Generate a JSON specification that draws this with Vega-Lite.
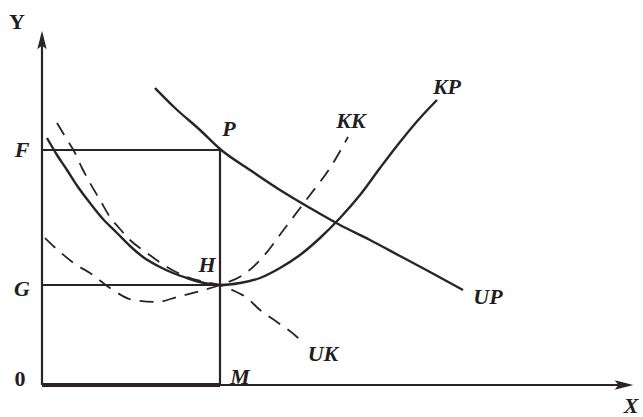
{
  "$schema": "https://vega.github.io/schema/vega-lite/v6.json",
  "width": 643,
  "height": 417,
  "autosize": "none",
  "padding": 0,
  "background": "white",
  "config": {"view": {"stroke": null}},
  "datasets": {
    "curves": [
      {"s": "KP", "o": 1, "x": 5, "y": 247}, {"s": "KP", "o": 2, "x": 15, "y": 230}, {"s": "KP", "o": 3, "x": 25, "y": 215}, {"s": "KP", "o": 4, "x": 36, "y": 198}, {"s": "KP", "o": 5, "x": 48, "y": 182}, {"s": "KP", "o": 6, "x": 61, "y": 166}, {"s": "KP", "o": 7, "x": 75, "y": 152}, {"s": "KP", "o": 8, "x": 88, "y": 139}, {"s": "KP", "o": 9, "x": 101, "y": 128}, {"s": "KP", "o": 10, "x": 116, "y": 119}, {"s": "KP", "o": 11, "x": 131, "y": 112}, {"s": "KP", "o": 12, "x": 145, "y": 107}, {"s": "KP", "o": 13, "x": 158, "y": 103}, {"s": "KP", "o": 14, "x": 168, "y": 101}, {"s": "KP", "o": 15, "x": 178, "y": 100}, {"s": "KP", "o": 16, "x": 198, "y": 102}, {"s": "KP", "o": 17, "x": 218, "y": 107}, {"s": "KP", "o": 18, "x": 238, "y": 117}, {"s": "KP", "o": 19, "x": 258, "y": 130}, {"s": "KP", "o": 20, "x": 278, "y": 147}, {"s": "KP", "o": 21, "x": 298, "y": 167}, {"s": "KP", "o": 22, "x": 318, "y": 190}, {"s": "KP", "o": 23, "x": 338, "y": 217}, {"s": "KP", "o": 24, "x": 358, "y": 243}, {"s": "KP", "o": 25, "x": 378, "y": 267}, {"s": "KP", "o": 26, "x": 395, "y": 285},
      {"s": "UP", "o": 1, "x": 113, "y": 297}, {"s": "UP", "o": 2, "x": 133, "y": 277}, {"s": "UP", "o": 3, "x": 158, "y": 255}, {"s": "UP", "o": 4, "x": 178, "y": 236}, {"s": "UP", "o": 5, "x": 208, "y": 215}, {"s": "UP", "o": 6, "x": 238, "y": 195}, {"s": "UP", "o": 7, "x": 268, "y": 177}, {"s": "UP", "o": 8, "x": 298, "y": 160}, {"s": "UP", "o": 9, "x": 328, "y": 145}, {"s": "UP", "o": 10, "x": 358, "y": 129}, {"s": "UP", "o": 11, "x": 388, "y": 113}, {"s": "UP", "o": 12, "x": 421, "y": 95},
      {"s": "UK", "o": 1, "x": 15, "y": 262}, {"s": "UK", "o": 2, "x": 24, "y": 247}, {"s": "UK", "o": 3, "x": 33, "y": 232}, {"s": "UK", "o": 4, "x": 40, "y": 217}, {"s": "UK", "o": 5, "x": 48, "y": 202}, {"s": "UK", "o": 6, "x": 58, "y": 185}, {"s": "UK", "o": 7, "x": 68, "y": 168}, {"s": "UK", "o": 8, "x": 78, "y": 156}, {"s": "UK", "o": 9, "x": 88, "y": 145}, {"s": "UK", "o": 10, "x": 105, "y": 132}, {"s": "UK", "o": 11, "x": 125, "y": 118}, {"s": "UK", "o": 12, "x": 145, "y": 108}, {"s": "UK", "o": 13, "x": 163, "y": 103}, {"s": "UK", "o": 14, "x": 178, "y": 100}, {"s": "UK", "o": 15, "x": 188, "y": 96}, {"s": "UK", "o": 16, "x": 205, "y": 87}, {"s": "UK", "o": 17, "x": 218, "y": 75}, {"s": "UK", "o": 18, "x": 235, "y": 63}, {"s": "UK", "o": 19, "x": 255, "y": 48}, {"s": "UK", "o": 20, "x": 261, "y": 42},
      {"s": "KK", "o": 1, "x": 3, "y": 147}, {"s": "KK", "o": 2, "x": 18, "y": 133}, {"s": "KK", "o": 3, "x": 33, "y": 121}, {"s": "KK", "o": 4, "x": 48, "y": 112}, {"s": "KK", "o": 5, "x": 68, "y": 97}, {"s": "KK", "o": 6, "x": 91, "y": 85}, {"s": "KK", "o": 7, "x": 115, "y": 83}, {"s": "KK", "o": 8, "x": 135, "y": 88}, {"s": "KK", "o": 9, "x": 158, "y": 94}, {"s": "KK", "o": 10, "x": 178, "y": 100}, {"s": "KK", "o": 11, "x": 201, "y": 110}, {"s": "KK", "o": 12, "x": 220, "y": 127}, {"s": "KK", "o": 13, "x": 243, "y": 157}, {"s": "KK", "o": 14, "x": 268, "y": 190}, {"s": "KK", "o": 15, "x": 288, "y": 217}, {"s": "KK", "o": 16, "x": 306, "y": 248}
    ],
    "segs": [
      {"k": "thin", "x": 0, "y": 0, "x2": 584, "y2": 0},
      {"k": "thin", "x": 0, "y": 0, "x2": 0, "y2": 350},
      {"k": "thin", "x": 0, "y": 235, "x2": 178, "y2": 235},
      {"k": "thin", "x": 0, "y": 100, "x2": 178, "y2": 100},
      {"k": "thin", "x": 178, "y": 0, "x2": 178, "y2": 235},
      {"k": "thick", "x": 0, "y": 0, "x2": 178, "y2": 0}
    ],
    "arrows": [
      {"a": "up", "x": 0, "y": 345},
      {"a": "right", "x": 582, "y": 0}
    ],
    "labels": [
      {"t": "Y", "st": "normal", "x": -25, "y": 363},
      {"t": "0", "st": "normal", "x": -22, "y": 6},
      {"t": "F", "st": "italic", "x": -20, "y": 235},
      {"t": "G", "st": "italic", "x": -20, "y": 96},
      {"t": "M", "st": "italic", "x": 198, "y": 8},
      {"t": "P", "st": "italic", "x": 187, "y": 256},
      {"t": "H", "st": "italic", "x": 165, "y": 120},
      {"t": "KK", "st": "italic", "x": 309, "y": 264},
      {"t": "KP", "st": "italic", "x": 405, "y": 298},
      {"t": "UP", "st": "italic", "x": 446, "y": 88},
      {"t": "UK", "st": "italic", "x": 281, "y": 31},
      {"t": "X", "st": "italic", "x": 589, "y": -21}
    ]
  },
  "encoding": {
    "x": {"type": "quantitative", "scale": {"domain": [-42, 601], "nice": false, "zero": false}, "axis": null},
    "y": {"type": "quantitative", "scale": {"domain": [-32, 385], "nice": false, "zero": false}, "axis": null}
  },
  "layer": [
    {
      "data": {"name": "segs"},
      "transform": [{"filter": "datum.k === 'thin'"}],
      "mark": {"type": "rule", "color": "#2b2327", "strokeWidth": 2.2},
      "encoding": {"x": {"field": "x", "type": "quantitative"}, "y": {"field": "y", "type": "quantitative"}, "x2": {"field": "x2"}, "y2": {"field": "y2"}}
    },
    {
      "data": {"name": "segs"},
      "transform": [{"filter": "datum.k === 'thick'"}],
      "mark": {"type": "rule", "color": "#2b2327", "strokeWidth": 4},
      "encoding": {"x": {"field": "x", "type": "quantitative"}, "y": {"field": "y", "type": "quantitative"}, "x2": {"field": "x2"}, "y2": {"field": "y2"}}
    },
    {
      "data": {"name": "arrows"},
      "transform": [{"filter": "datum.a === 'up'"}],
      "mark": {"type": "point", "shape": "M-0.5,1 L0,-1 L0.5,1 L0,0.6 Z", "filled": true, "color": "#2b2327", "size": 350, "opacity": 1},
      "encoding": {"x": {"field": "x", "type": "quantitative"}, "y": {"field": "y", "type": "quantitative"}}
    },
    {
      "data": {"name": "arrows"},
      "transform": [{"filter": "datum.a === 'right'"}],
      "mark": {"type": "point", "shape": "M-1,-0.5 L1,0 L-1,0.5 L-0.6,0 Z", "filled": true, "color": "#2b2327", "size": 350, "opacity": 1},
      "encoding": {"x": {"field": "x", "type": "quantitative"}, "y": {"field": "y", "type": "quantitative"}}
    },
    {
      "data": {"name": "curves"},
      "transform": [{"filter": "datum.s === 'KP' || datum.s === 'UP'"}],
      "mark": {"type": "line", "color": "#2b2327", "strokeWidth": 2.4, "interpolate": "monotone"},
      "encoding": {"x": {"field": "x", "type": "quantitative"}, "y": {"field": "y", "type": "quantitative"}, "detail": {"field": "s"}, "order": {"field": "o"}}
    },
    {
      "data": {"name": "curves"},
      "transform": [{"filter": "datum.s === 'KK' || datum.s === 'UK'"}],
      "mark": {"type": "line", "color": "#2b2327", "strokeWidth": 1.8, "strokeDash": [14, 9], "interpolate": "monotone"},
      "encoding": {"x": {"field": "x", "type": "quantitative"}, "y": {"field": "y", "type": "quantitative"}, "detail": {"field": "s"}, "order": {"field": "o"}}
    },
    {
      "data": {"name": "labels"},
      "transform": [{"filter": "datum.st === 'normal'"}],
      "mark": {"type": "text", "font": "Liberation Serif", "fontWeight": "bold", "fontSize": 22, "color": "#231c20", "align": "center", "baseline": "middle"},
      "encoding": {"x": {"field": "x", "type": "quantitative"}, "y": {"field": "y", "type": "quantitative"}, "text": {"field": "t"}}
    },
    {
      "data": {"name": "labels"},
      "transform": [{"filter": "datum.st === 'italic'"}],
      "mark": {"type": "text", "font": "Liberation Serif", "fontWeight": "bold", "fontStyle": "italic", "fontSize": 22, "color": "#231c20", "align": "center", "baseline": "middle"},
      "encoding": {"x": {"field": "x", "type": "quantitative"}, "y": {"field": "y", "type": "quantitative"}, "text": {"field": "t"}}
    }
  ]
}
